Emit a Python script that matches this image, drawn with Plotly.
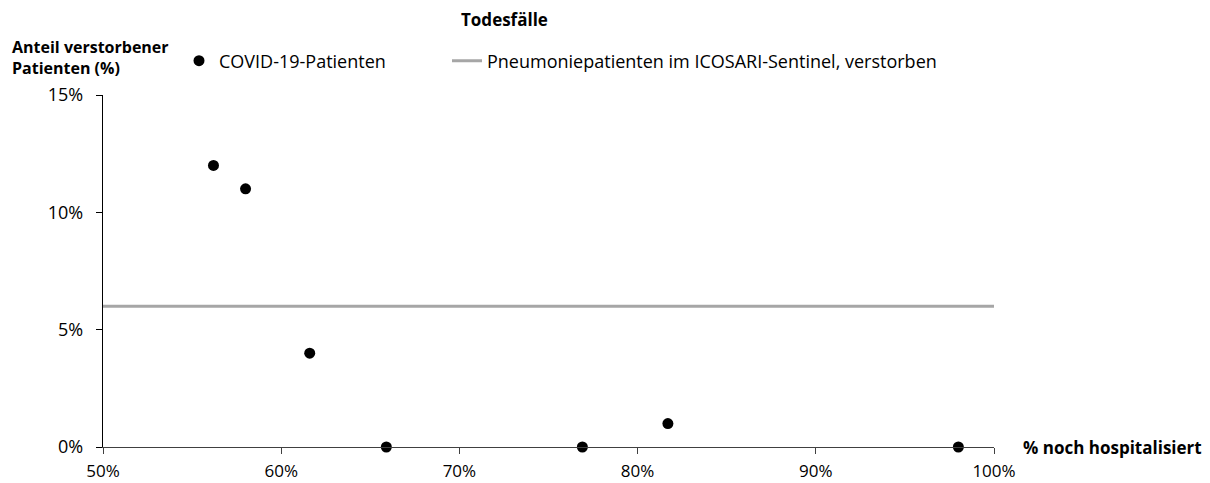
import plotly.graph_objects as go

# Data
hospitalised_pct = [56.2, 58.0, 61.6, 65.9, 76.9, 81.7, 98.0]
deceased_pct = [12.0, 11.0, 4.0, 0.0, 0.0, 1.0, 0.0]
icosari_x = [50, 100]
icosari_deceased = [6.0, 6.0]
x_ticks = [50, 60, 70, 80, 90, 100]
y_ticks = [0, 5, 10, 15]

FONT = "Open Sans"
OFF = 8  # page body margin offset
W, H = 1210 - OFF, 483 - OFF
# plot area in target-pixel coordinates
L, R, T, B = 103 - OFF, 994 - OFF, 95 - OFF, 447 - OFF
PW, PH = R - L, B - T


def px(xr):
    return (xr - OFF - L) / PW


def py(yr):
    return (B - (yr - OFF)) / PH


fig = go.Figure()
fig.add_trace(go.Scatter(
    x=hospitalised_pct, y=deceased_pct, mode="markers",
    name="COVID-19-Patienten",
    marker=dict(color="black", size=11),
    cliponaxis=False, legend="legend",
))
fig.add_trace(go.Scatter(
    x=icosari_x, y=icosari_deceased, mode="lines",
    name="Pneumoniepatienten im ICOSARI-Sentinel, verstorben",
    line=dict(color="#a6a6a6", width=3), legend="legend2",
))

leg_common = dict(orientation="h", yanchor="middle", xanchor="left",
                  font=dict(size=18, family=FONT), bgcolor="rgba(0,0,0,0)")
fig.update_layout(
    width=W, height=H,
    margin=dict(l=L, r=W - R, t=T, b=H - B, autoexpand=False),
    paper_bgcolor="white", plot_bgcolor="white",
    font=dict(family=FONT, size=17, color="black"),
    showlegend=True,
    legend=dict(x=px(179), y=py(61), **leg_common),
    legend2=dict(x=px(447), y=py(61), **leg_common),
    xaxis=dict(range=[50, 100], tickvals=x_ticks,
               ticktext=[f"{v}%" for v in x_ticks],
               showgrid=False, zeroline=False, showline=True,
               linecolor="#404040", linewidth=1.3,
               ticks="outside", ticklen=6, tickcolor="#404040",
               ticklabelstandoff=2,
               tickfont=dict(size=17)),
    yaxis=dict(range=[0, 15], tickvals=y_ticks,
               ticktext=[f"{v}%" for v in y_ticks],
               showgrid=False, zeroline=False, showline=True,
               linecolor="black", linewidth=1.3,
               ticks="outside", ticklen=6, tickcolor="black",
               ticklabelstandoff=9,
               tickfont=dict(size=18)),
)

fig.add_annotation(text="<b>Todesfälle</b>", xref="paper", yref="paper",
                   x=px(504), y=py(20),
                   showarrow=False, xanchor="center", yanchor="middle",
                   font=dict(size=17))
fig.add_annotation(text="<b>Anteil verstorbener<br>Patienten (%)</b>",
                   xref="paper", yref="paper",
                   x=px(10), y=py(58),
                   showarrow=False, xanchor="left", yanchor="middle", align="left",
                   font=dict(size=16))
fig.add_annotation(text="<b>% noch hospitalisiert</b>",
                   xref="paper", yref="paper",
                   x=px(1021), y=py(447),
                   showarrow=False, xanchor="left", yanchor="middle", align="left",
                   font=dict(size=17))

fig.write_html("out.html")
